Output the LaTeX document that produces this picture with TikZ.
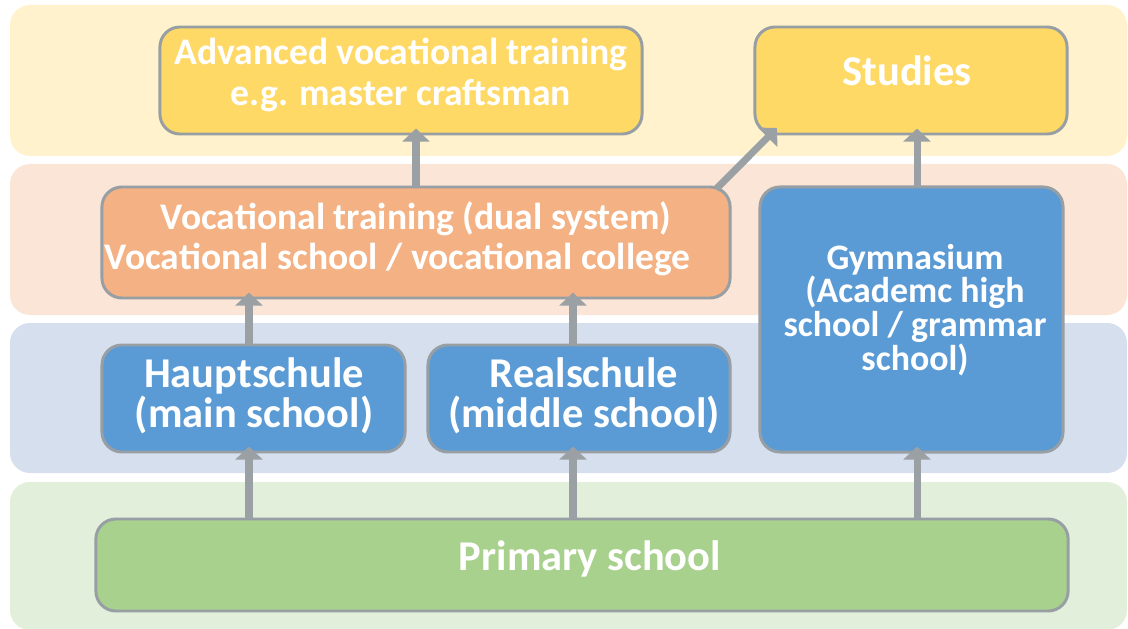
\documentclass[tikz,border=0pt]{standalone}
\usepackage{fontspec}
\setmainfont{Carlito}
\usetikzlibrary{arrows.meta,calc}

\definecolor{bandyellow}{HTML}{FFF2CC}
\definecolor{bandsalmon}{HTML}{FBE5D6}
\definecolor{bandblue}{HTML}{D6DFEE}
\definecolor{bandgreen}{HTML}{E2EFDA}
\definecolor{boxyellow}{HTML}{FFD966}
\definecolor{boxsalmon}{HTML}{F4B183}
\definecolor{boxblue}{HTML}{5B9BD5}
\definecolor{boxgreen}{HTML}{A9D18E}
\definecolor{boxline}{HTML}{979EA4}
\definecolor{arrowgray}{HTML}{9AA0A4}

\tikzset{
  band/.style={rounded corners=0.5cm},
  box/.style={draw=boxline, line width=2.1pt, rounded corners=0.5cm,
    outer sep=0pt, inner sep=0pt},
  lbl/.style={text=white, align=center, inner sep=0pt,
    font=\bfseries\fontsize{26.7}{28.5}\selectfont},
  biglbl/.style={lbl, font=\bfseries\fontsize{30.2}{28.5}\selectfont},
  smalllbl/.style={lbl, font=\bfseries\fontsize{25.5}{24}\selectfont},
  arr/.style={draw=arrowgray, line width=5pt,
    -{Triangle[width=0.675cm,length=0.33cm]}}
}

\begin{document}
\begin{tikzpicture}[x=0.025cm,y=-0.025cm]
\useasboundingbox (0,0) rectangle (1128,629);

% the four school levels
\fill[band,bandyellow] (10,5)   rectangle (1127,156);
\fill[band,bandsalmon] (10,164) rectangle (1127,315);
\fill[band,bandblue]   (10,323) rectangle (1127,473);
\fill[band,bandgreen]  (10,482) rectangle (1127,630);

\node[box,fill=boxyellow,minimum width=12.05cm,minimum height=2.675cm] (adv)    at (401,80.5)  {};
\node[box,fill=boxyellow,minimum width=7.8cm,minimum height=2.675cm]   (stud)   at (911,80.5)  {};
\node[box,fill=boxsalmon,minimum width=15.7cm,minimum height=2.775cm]  (voc)    at (416,242.5) {};
\node[box,fill=boxblue,minimum width=7.575cm,minimum height=6.625cm]   (gym)    at (911.5,319.5) {};
\node[box,fill=boxblue,minimum width=7.575cm,minimum height=2.675cm]   (haupt)  at (253.5,398.5) {};
\node[box,fill=boxblue,minimum width=7.55cm,minimum height=2.675cm]    (real)   at (579,398.5) {};
\node[box,fill=boxgreen,minimum width=24.3cm,minimum height=2.3cm]     (prim)   at (582,565)   {};

\draw[arr] ($(haupt.south |- prim.north)+(-4.5,0)$) -- ($(haupt.south)+(-4.5,-5.5)$);
\draw[arr] ($(real.south |- prim.north)+(-6,0)$)    -- ($(real.south)+(-6,-5.5)$);
\draw[arr] ($(gym.south |- prim.north)+(5.5,0)$)    -- ($(gym.south)+(5.5,-5.5)$);
\draw[arr] ($(haupt.north)+(-4.5,0)$) -- ($(haupt.north |- voc.south)+(-4.5,-5.5)$);
\draw[arr] ($(real.north)+(-6,0)$)    -- ($(real.north |- voc.south)+(-6,-5.5)$);
\draw[arr] (voc.north) -- ($(voc.north |- adv.south)+(0,-5.5)$);
\draw[arr] ($(gym.north)+(5.5,0)$) -- ($(gym.north |- stud.south)+(5.5,-5.5)$);
\draw[arr] ($(voc.north east)+(-14,2)$) -- ($(stud.south west)+(22,-6)$);

\node[lbl]      (advtxt)   at (401,75)    {Advanced vocational training\\e.g. master craftsman};
\node[biglbl]   (studtxt)  at (907,71)    {Studies};
\node[lbl]      (voctxt)   at (416,239)   {Vocational training (dual system)\\Vocational school / vocational college\hspace*{0.925cm}};
\node[smalllbl] (gymtxt)   at (915,310)   {Gymnasium\\(Academc high\\school / grammar\\school)};
\node[biglbl]   (hauptxt)  at (254,395.5) {Hauptschule\\(main school)};
\node[biglbl]   (realtxt)  at (584,395.5) {Realschule\\(middle school)};
\node[biglbl]   (primtxt)  at (590,559)   {Primary school};
\end{tikzpicture}
\end{document}
